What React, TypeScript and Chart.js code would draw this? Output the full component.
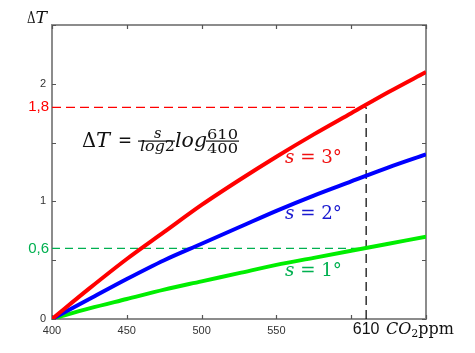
import React, { useEffect, useRef } from "react";
import { Chart, registerables } from "chart.js";
Chart.register(...registerables);

// CO2 concentration (ppm) and temperature rise
const co2 = [400, 425, 450, 475, 500, 525, 550, 575, 600, 625, 650];
const dT_s3 = [0, 0.26, 0.51, 0.74, 0.97, 1.18, 1.38, 1.57, 1.75, 1.93, 2.1];
const dT_s2 = [0, 0.17, 0.34, 0.5, 0.64, 0.78, 0.92, 1.05, 1.17, 1.29, 1.4];
const dT_s1 = [0, 0.09, 0.17, 0.25, 0.32, 0.39, 0.46, 0.52, 0.58, 0.64, 0.7];
const markCO2 = 610;
const markS3 = 1.8;
const markS1 = 0.6;
const xTickLabels = ["400", "450", "500", "550"];
const yTickLabels = ["0", "1", "2"];

const RED = "#ff0000";
const BLUE = "#0000ff";
const GREEN = "#00ee00";
const LABEL_GREEN = "#00b050";
const SERIF = '"DejaVu Serif"';
const SANS = '"Liberation Sans"';
const INK = "#111";

type Run = { t: string; f: string; dy?: number };

function drawRuns(ctx: CanvasRenderingContext2D, x: number, y: number, runs: Run[], color: string) {
  ctx.fillStyle = color;
  ctx.textBaseline = "alphabetic";
  ctx.textAlign = "left";
  let cx = x;
  for (const r of runs) {
    ctx.font = r.f;
    ctx.fillText(r.t, cx, y + (r.dy || 0));
    cx += ctx.measureText(r.t).width;
  }
  return cx;
}

// draw text horizontally fitted into a given width
function fit(ctx: CanvasRenderingContext2D, t: string, f: string, x: number, y: number, w: number, color: string) {
  ctx.save();
  ctx.font = f;
  ctx.fillStyle = color;
  ctx.textAlign = "left";
  ctx.textBaseline = "alphabetic";
  const m = ctx.measureText(t).width;
  ctx.translate(x, y);
  ctx.scale(w / m, 1);
  ctx.fillText(t, 0, 0);
  ctx.restore();
}

function fitRuns(ctx: CanvasRenderingContext2D, x: number, y: number, w: number, runs: Run[], color: string) {
  let total = 0;
  for (const r of runs) {
    ctx.font = r.f;
    total += ctx.measureText(r.t).width;
  }
  ctx.save();
  ctx.translate(x, y);
  ctx.scale(w / total, 1);
  drawRuns(ctx, 0, 0, runs, color);
  ctx.restore();
}

const annot = {
  id: "annot",
  beforeDatasetsDraw(chart: any) {
    const { ctx, chartArea: a, scales } = chart;
    ctx.save();
    ctx.strokeStyle = "#8c8c8c";
    ctx.lineWidth = 2;
    ctx.strokeRect(a.left, a.top, a.right - a.left, a.bottom - a.top);
    ctx.lineWidth = 1.2;
    ctx.strokeStyle = "#555";
    const tl = 4;
    ctx.beginPath();
    for (const t of scales.x.ticks) {
      const px = Math.round(scales.x.getPixelForValue(t.value)) + 0.5;
      ctx.moveTo(px, a.bottom);
      ctx.lineTo(px, a.bottom - tl);
      ctx.moveTo(px, a.top);
      ctx.lineTo(px, a.top + tl);
    }
    for (const t of scales.y.ticks) {
      const py = Math.round(scales.y.getPixelForValue(t.value)) + 0.5;
      ctx.moveTo(a.left, py);
      ctx.lineTo(a.left + tl, py);
      ctx.moveTo(a.right, py);
      ctx.lineTo(a.right - tl, py);
    }
    ctx.stroke();
    ctx.restore();
  },
  afterDatasetsDraw(chart: any) {
    const { ctx, chartArea: a, scales } = chart;
    const x = scales.x;
    const y = scales.y;
    ctx.save();
    // axis title ΔT
    fit(ctx, "Δ", `16px ${SERIF}`, 27, 23, 8.5, INK);
    fit(ctx, "T", `italic 16px ${SERIF}`, 35.5, 23, 11.5, INK);
    // highlighted values on y axis
    ctx.font = `15px ${SANS}`;
    ctx.textAlign = "right";
    ctx.textBaseline = "middle";
    ctx.fillStyle = RED;
    ctx.fillText("1,8", a.left - 3, y.getPixelForValue(markS3));
    ctx.fillStyle = LABEL_GREEN;
    ctx.fillText("0,6", a.left - 3, y.getPixelForValue(markS1));
    // 610 on x axis
    ctx.font = `16px ${SANS}`;
    ctx.textAlign = "center";
    ctx.textBaseline = "top";
    ctx.fillStyle = INK;
    ctx.fillText(String(markCO2), x.getPixelForValue(markCO2), a.bottom + 3);
    // CO2 ppm
    drawRuns(ctx, 386, 334, [
      { t: "CO", f: `italic 16px ${SERIF}` },
      { t: "2", f: `11px ${SERIF}`, dy: 3 },
      { t: "ppm", f: `16px ${SERIF}` },
    ], INK);
    // formula  ΔT = s/log2 · log 610/400
    fit(ctx, "Δ", `20px ${SERIF}`, 82, 147, 14, INK);
    fit(ctx, "T", `italic 20px ${SERIF}`, 96, 147, 14, INK);
    fit(ctx, "=", `20px ${SERIF}`, 118, 147, 14, INK);
    fit(ctx, "s", `italic 15px ${SERIF}`, 154, 138, 7.5, INK);
    ctx.fillStyle = INK;
    ctx.fillRect(138, 140.5, 37, 1.2);
    fitRuns(ctx, 140, 151, 35, [
      { t: "log", f: `italic 14px ${SERIF}` },
      { t: "2", f: `14px ${SERIF}` },
    ], INK);
    fit(ctx, "log", `italic 20px ${SERIF}`, 175, 147, 32, INK);
    fit(ctx, "610", `12px ${SERIF}`, 207, 139, 31, INK);
    ctx.fillStyle = INK;
    ctx.fillRect(206, 140.5, 33, 1.2);
    fit(ctx, "400", `12px ${SERIF}`, 207, 153, 31, INK);
    // series labels
    const sl = (val: string, yy: number, col: string) =>
      fitRuns(ctx, 285, yy, 57, [
        { t: "s", f: `italic 18px ${SERIF}` },
        { t: " = " + val + "°", f: `18px ${SERIF}` },
      ], col);
    sl("3", 163, "#f01010");
    sl("2", 219, "#1a1ad0");
    sl("1", 276, LABEL_GREEN);
    ctx.restore();
  },
};

export default function App() {
  const ref = useRef<HTMLCanvasElement>(null);
  useEffect(() => {
    if (!ref.current) return;
    const pts = (ys: number[]) => co2.map((c, i) => ({ x: c, y: ys[i] }));
    const chart = new Chart(ref.current, {
      type: "line",
      data: {
        datasets: [
          { data: pts(dT_s3), borderColor: RED, borderWidth: 4, pointRadius: 0, cubicInterpolationMode: "monotone", order: 1 },
          { data: pts(dT_s2), borderColor: BLUE, borderWidth: 4, pointRadius: 0, cubicInterpolationMode: "monotone", order: 1 },
          { data: pts(dT_s1), borderColor: GREEN, borderWidth: 4, pointRadius: 0, cubicInterpolationMode: "monotone", order: 1 },
          { data: [{ x: co2[0], y: markS3 }, { x: markCO2, y: markS3 }], borderColor: RED, borderWidth: 1.3, borderDash: [9, 5], pointRadius: 0, order: 2 },
          { data: [{ x: co2[0], y: markS1 }, { x: markCO2, y: markS1 }], borderColor: LABEL_GREEN, borderWidth: 1.3, borderDash: [8, 5], pointRadius: 0, order: 2 },
          { data: [{ x: markCO2, y: 0 }, { x: markCO2, y: markS3 }], borderColor: INK, borderWidth: 1.3, borderDash: [9, 5], pointRadius: 0, order: 2 },
        ] as any,
      },
      options: {
        animation: false,
        responsive: false,
        events: [],
        layout: { padding: { top: 25, right: 49, left: 0, bottom: 0 } },
        plugins: { legend: { display: false }, tooltip: { enabled: false } },
        scales: {
          x: {
            type: "linear",
            min: 400,
            max: 650,
            grid: { display: false, drawTicks: false },
            border: { display: false },
            afterFit: (s: any) => { s.height = 34; },
            ticks: {
              stepSize: 50,
              autoSkip: false,
              maxRotation: 0,
              padding: 5,
              color: "#333",
              font: { family: "Liberation Sans", size: 11 },
              callback: (v: any) => (xTickLabels.includes(String(v)) ? String(v) : ""),
            },
          },
          y: {
            type: "linear",
            min: 0,
            max: 2.5,
            grid: { display: false, drawTicks: false },
            border: { display: false },
            afterFit: (s: any) => { s.width = 52; },
            ticks: {
              stepSize: 0.5,
              padding: 6,
              color: "#333",
              font: { family: "Liberation Sans", size: 11 },
              callback: (v: any) => (yTickLabels.includes(String(v)) ? String(v) : ""),
            },
          },
        },
      },
      plugins: [annot],
    } as any);
    return () => chart.destroy();
  }, []);
  return (
    <div style={{ position: "fixed", left: 0, top: 0, width: 475, height: 353, background: "#fff" }}>
      <canvas ref={ref} width={475} height={353} style={{ width: 475, height: 353 }} />
    </div>
  );
}
